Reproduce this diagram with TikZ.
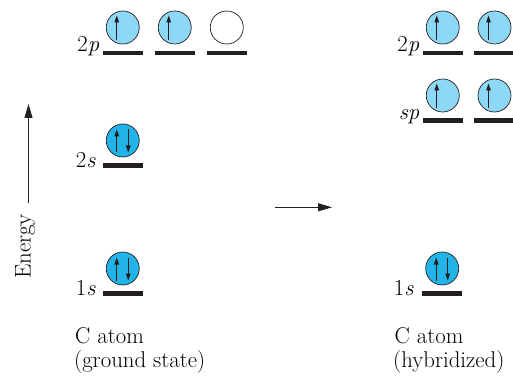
\documentclass[tikz,border=0pt]{standalone}
\usetikzlibrary{arrows.meta,calc}
\definecolor{lightorb}{HTML}{8DD7F7}
\definecolor{deeporb}{HTML}{22B3E8}
\definecolor{barcol}{HTML}{231F20}
\begin{document}
\begin{tikzpicture}[x=1pt,y=1pt,
 orb/.style={circle,draw=barcol,line width=0.7pt,minimum size=33pt,inner sep=0pt},
 lorb/.style={orb,fill=lightorb},
 dorb/.style={orb,fill=deeporb},
 eorb/.style={orb,fill=white},
 level/.style={fill=barcol,minimum width=40.5pt,minimum height=4.6pt,inner sep=0pt},
 lab/.style={font=\fontsize{22.8}{24}\selectfont,anchor=base east,inner sep=0pt},
 captext/.style={font=\fontsize{22.8}{24}\selectfont,anchor=base west,inner sep=0pt},
 elec/.style={line width=0.9pt,draw=barcol,-{Triangle[length=7pt,width=4.6pt]}},
 bigarrow/.style={line width=0.9pt,draw=barcol,-{Triangle[length=14pt,width=8pt]}}
]
\useasboundingbox (0,0) rectangle (513,375);
% ---- left: ground state ----
\node[level] (b2pa) at (122.75,322) {};
\node[level] (b2pb) at (174.75,322) {};
\node[level] (b2pc) at (226.75,322) {};
\node[lorb] (o2pa) at (122.75,347.5) {};
\node[lorb] (o2pb) at (174.75,347.5) {};
\node[eorb] (o2pc) at (226.75,347.5) {};
\draw[elec] ($(o2pa.center)+(-6,-13)$) -- ($(o2pa.center)+(-6,12)$);
\draw[elec] ($(o2pb.center)+(-6,-13)$) -- ($(o2pb.center)+(-6,12)$);
\node[lab] (l2p) at (99.5,323) {2\textit{p}};

\node[level] (b2s) at (122.75,209.2) {};
\node[dorb] (o2s) at (122.75,234.5) {};
\draw[elec] ($(o2s.center)+(-6,-12)$) -- ($(o2s.center)+(-6,11)$);
\draw[elec] ($(o2s.center)+(5.5,11)$) -- ($(o2s.center)+(5.5,-12)$);
\node[lab] (l2s) at (96,207) {2\textit{s}};

\node[level] (b1s) at (122.75,81.8) {};
\node[dorb] (o1s) at (122.75,106.5) {};
\draw[elec] ($(o1s.center)+(-6,-12)$) -- ($(o1s.center)+(-6,11)$);
\draw[elec] ($(o1s.center)+(5.5,11)$) -- ($(o1s.center)+(5.5,-12)$);
\node[lab] (l1s) at (96,79.5) {1\textit{s}};

\node[captext] (capLa) at (75,32) {C atom};
\node[captext] (capLb) at (74,8) {(ground state)};

% ---- energy axis ----
\coordinate (eb) at (28.5,172);
\coordinate (et) at (28.5,271);
\draw[bigarrow] (eb) -- (et);
\node[rotate=90,anchor=base,font=\fontsize{22.8}{24}\selectfont,inner sep=0pt] (energy) at (30.5,128.5) {Energy};

% ---- middle arrow ----
\coordinate (ma) at (275,167.7);
\coordinate (mb) at (332,167.7);
\draw[bigarrow] (ma) -- (mb);

% ---- right: hybridized ----
\node[level] (r2pa) at (442.75,322) {};
\node[level] (r2pb) at (494.5,322) {};
\node[lorb] (q2pa) at (442.75,347.5) {};
\node[lorb] (q2pb) at (494.5,347.5) {};
\draw[elec] ($(q2pa.center)+(-6,-13)$) -- ($(q2pa.center)+(-6,12)$);
\draw[elec] ($(q2pb.center)+(-6,-13)$) -- ($(q2pb.center)+(-6,12)$);
\node[lab] (r2p) at (419.5,323) {2\textit{p}};

\node[level] (rspa) at (442.75,254.5) {};
\node[level] (rspb) at (494.5,254.5) {};
\node[lorb] (qspa) at (442.75,279.5) {};
\node[lorb] (qspb) at (494.5,279.5) {};
\draw[elec] ($(qspa.center)+(-6,-13)$) -- ($(qspa.center)+(-6,12)$);
\draw[elec] ($(qspb.center)+(-6,-13)$) -- ($(qspb.center)+(-6,12)$);
\node[lab] (rsp) at (419.5,255.5) {\textit{sp}};

\node[level] (r1s) at (442.2,81.8) {};
\node[dorb] (q1s) at (442.2,106.5) {};
\draw[elec] ($(q1s.center)+(-6,-12)$) -- ($(q1s.center)+(-6,11)$);
\draw[elec] ($(q1s.center)+(5.5,11)$) -- ($(q1s.center)+(5.5,-12)$);
\node[lab] (r1sl) at (414,80) {1\textit{s}};

\node[captext] (capRa) at (394.5,32) {C atom};
\node[captext] (capRb) at (393,8) {(hybridized)};
\end{tikzpicture}
\end{document}
